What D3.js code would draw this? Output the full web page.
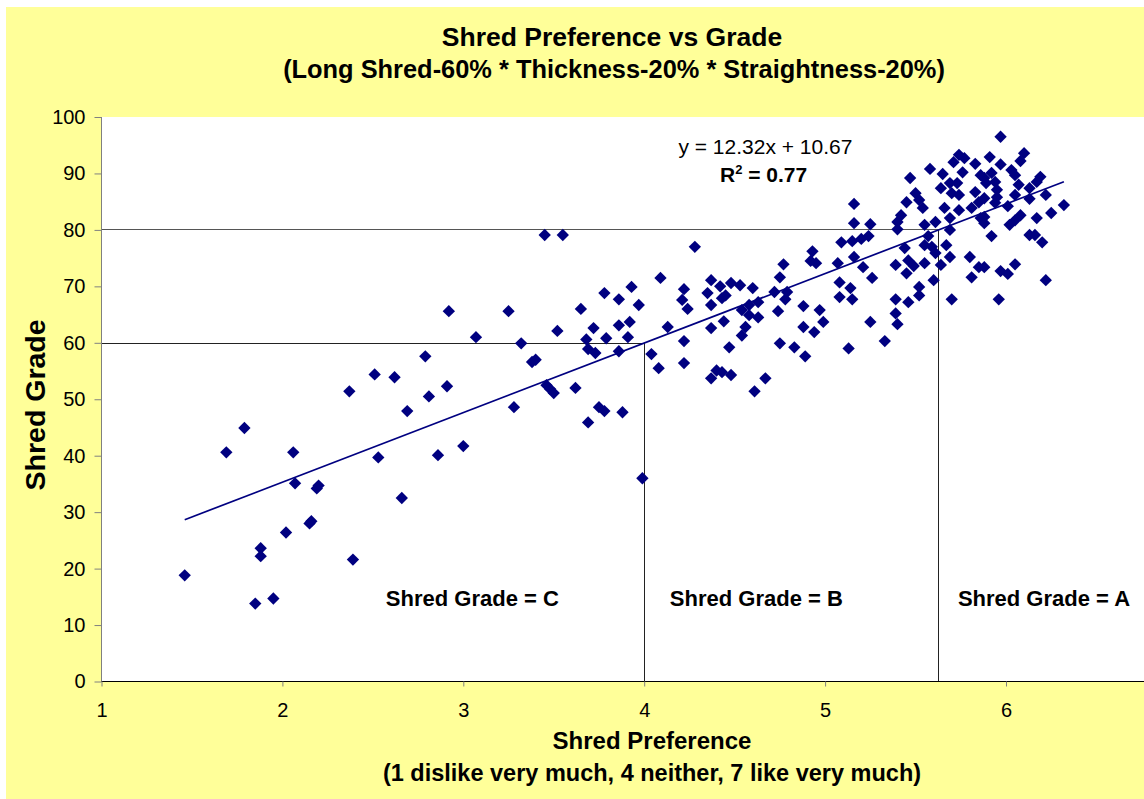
<!DOCTYPE html>
<html>
<head>
<meta charset="utf-8">
<script src="https://cdn.jsdelivr.net/npm/d3@7"></script>
<style>
  body { margin: 0; background: #fff; }
  text { font-family: "Liberation Sans", Arial, sans-serif; }
</style>
</head>
<body>
<div id="chart"></div>
<script>
// Shred preference (x) vs grade (y), grouped by the grade zone they fall in
const zoneC = [
  [1.46,18.8],[1.69,40.6],[1.79,44.9],[1.85,13.8],[1.88,23.6],[1.88,22.2],[1.95,14.7],[2.02,26.4],
  [2.06,40.6],[2.07,35.1],[2.15,28.0],[2.16,28.4],[2.19,34.2],[2.20,34.7],[2.39,21.6],[2.53,39.7],
  [2.66,32.5],[2.69,47.9],[2.37,51.4],[2.51,54.4],[2.62,53.9],[2.79,57.6],[2.81,50.5],[2.91,52.3],
  [2.86,40.1],[3.00,41.7],[2.92,65.6],[3.25,65.6],[3.07,61.0],[3.32,59.9],[3.28,48.6],[3.38,56.6],
  [3.40,57.0],[3.45,79.1],[3.55,79.1],[3.78,68.8],[3.86,67.7],[3.93,69.9],[3.97,66.7],[3.65,66.0],
  [3.52,62.1],[3.72,62.6],[3.86,63.1],[3.92,63.7],[3.79,60.8],[3.91,61.0],[3.68,60.6],[3.69,58.9],
  [3.73,58.2],[3.86,58.5],[3.46,52.5],[3.50,51.1],[3.48,51.8],[3.62,52.0],[3.75,48.6],[3.78,47.9],
  [3.88,47.7],[3.69,45.9],[3.99,36.0]
];
const zoneB = [
  [4.28,77.0],[4.09,71.5],[4.22,69.5],[4.21,67.6],[4.24,66.0],[4.13,62.8],[4.22,60.3],[4.04,58.0],
  [4.08,55.5],[4.22,56.4],[4.37,71.1],[4.42,70.0],[4.48,70.6],[4.53,70.2],[4.60,69.7],[4.35,68.8],
  [4.45,68.4],[4.43,67.9],[4.72,69.0],[4.79,69.0],[4.78,67.7],[4.77,73.9],[4.75,71.6],[4.93,76.2],
  [4.92,74.5],[4.95,74.1],[5.07,74.1],[5.16,75.2],[5.09,77.8],[5.15,78.0],[5.16,81.2],[5.08,70.7],
  [5.08,68.1],[5.14,69.7],[5.15,67.7],[4.37,66.7],[4.58,66.7],[4.63,67.2],[4.54,65.8],[4.58,64.9],
  [4.63,64.5],[4.74,65.6],[4.88,66.5],[4.97,65.8],[4.99,63.7],[4.88,62.8],[4.94,61.9],[4.44,63.8],
  [4.37,62.6],[4.56,62.8],[4.54,61.3],[4.47,59.2],[4.75,59.9],[4.83,59.2],[4.89,57.6],[5.13,59.0],
  [4.40,55.1],[4.43,54.8],[4.48,54.3],[4.37,53.7],[4.67,53.7],[4.61,51.4],
  [5.47,89.2],[5.50,86.5],[5.45,84.9],[5.42,82.6],[5.40,81.4],[5.40,80.1],[5.16,84.6],[5.25,81.0],
  [5.20,78.4],[5.24,78.9],[5.21,73.4],[5.26,71.5],[5.44,76.8],[5.46,74.6],[5.39,73.8],[5.45,72.3],
  [5.49,73.6],[5.52,69.9],[5.25,63.7],[5.39,67.7],[5.46,67.2],[5.52,68.4],[5.39,65.2],[5.40,63.3],
  [5.33,60.3],[5.58,90.8],[5.52,85.3],[5.54,83.9],[5.55,80.9],[5.61,81.4],[5.57,78.9],[5.55,77.3],
  [5.59,77.0],[5.61,75.9],[5.55,74.1],[5.60,71.1]
];
const zoneA = [
  [5.74,93.3],[5.77,92.7],[5.71,92.0],[5.83,91.7],[5.65,89.9],[5.76,90.2],[5.86,89.7],[5.64,87.4],
  [5.69,88.3],[5.73,88.3],[5.70,86.5],[5.74,86.2],[5.83,86.7],[5.85,84.9],[5.81,83.9],[5.66,83.9],
  [5.74,83.5],[5.69,82.1],[5.86,82.1],[5.69,80.0],[5.67,77.3],[5.64,73.8],[5.69,75.2],[5.80,75.2],
  [5.85,73.4],[5.81,71.6],[5.70,67.7],
  [5.97,96.5],[5.91,92.9],[6.10,93.6],[6.08,92.2],[5.97,91.6],[6.03,90.6],[5.92,90.1],[5.88,89.2],
  [6.05,89.7],[6.19,89.4],[6.17,88.5],[5.94,88.5],[6.07,88.0],[6.13,87.4],[5.95,87.1],[5.89,88.3],
  [6.22,86.2],[6.13,85.5],[5.95,85.8],[6.05,86.2],[6.01,84.2],[5.94,84.8],[6.32,84.4],[6.25,83.0],
  [5.88,85.6],[5.88,82.3],[6.08,82.6],[6.05,81.7],[6.02,80.9],[6.17,82.1],[5.88,81.2],[5.92,78.9],
  [6.13,79.1],[6.16,79.1],[6.20,77.8],[5.88,73.4],[5.97,72.7],[6.01,72.2],[6.05,73.9],[6.22,71.1],
  [5.96,67.7]
];

// Trend line y = slope * x + intercept, as printed on the chart
const slope = 12.32;
const intercept = 10.67;
const rSquared = 0.77;
const gradeCutoffs = [60, 80];
const xTicks = [1, 2, 3, 4, 5, 6];
const yTicks = [0, 10, 20, 30, 40, 50, 60, 70, 80, 90, 100];
const zoneLabels = ["Shred Grade = C", "Shred Grade = B", "Shred Grade = A"];

const data = zoneC.concat(zoneB, zoneA);

const svgWidth = 1144;
const svgHeight = 799;
const plot = { left: 101.5, top: 117, bottom: 681.5, right: 1144 };
const unitX = 180.9;

const svg = d3.select("#chart")
  .append("svg")
  .attr("width", svgWidth)
  .attr("height", svgHeight);

// Chart area and plot area backgrounds
svg.append("rect")
  .attr("x", 6).attr("y", 7)
  .attr("width", svgWidth - 6).attr("height", svgHeight - 7)
  .attr("fill", "#ffff99");

svg.append("rect")
  .attr("x", plot.left).attr("y", plot.top)
  .attr("width", plot.right - plot.left).attr("height", plot.bottom - plot.top)
  .attr("fill", "#fff");

// Scales (x axis runs 1..7 but the chart is cut off before 7)
const xScale = d3.scaleLinear()
  .domain([1, 7])
  .range([plot.left, plot.left + 6 * unitX]);

const yScale = d3.scaleLinear()
  .domain([0, 100])
  .range([plot.bottom, plot.top]);

// Cutoff lines: preference 4 ("neither") and grade 80 read back through the trend line
const cutB = 4;
const cutA = (gradeCutoffs[1] - intercept) / slope;
const gradeAt4 = slope * cutB + intercept;

const guides = svg.append("g").attr("shape-rendering", "crispEdges");
guides.append("line")
  .attr("x1", xScale(1)).attr("x2", xScale(cutB))
  .attr("y1", yScale(gradeAt4)).attr("y2", yScale(gradeAt4))
  .attr("stroke", "#222");
guides.append("line")
  .attr("x1", xScale(cutB)).attr("x2", xScale(cutB))
  .attr("y1", yScale(gradeAt4)).attr("y2", yScale(0))
  .attr("stroke", "#222");
guides.append("line")
  .attr("x1", xScale(1)).attr("x2", xScale(cutA))
  .attr("y1", yScale(gradeCutoffs[1])).attr("y2", yScale(gradeCutoffs[1]))
  .attr("stroke", "#555");
guides.append("line")
  .attr("x1", xScale(cutA)).attr("x2", xScale(cutA))
  .attr("y1", yScale(gradeCutoffs[1])).attr("y2", yScale(0))
  .attr("stroke", "#222");

// Axes
const yAxis = d3.axisLeft(yScale)
  .tickValues(yTicks)
  .tickSize(7)
  .tickPadding(9);

const yG = svg.append("g")
  .attr("transform", `translate(${plot.left}, 0)`)
  .call(yAxis);
yG.select(".domain").attr("stroke", "#808080").attr("d", `M0,${plot.top}V${plot.bottom}`);
yG.selectAll(".tick line").attr("stroke", "#808080");
yG.selectAll("text")
  .attr("font-size", 20)
  .attr("font-family", "Liberation Sans, Arial, sans-serif")
  .attr("fill", "#000");

const xAxis = d3.axisBottom(xScale)
  .tickValues(xTicks)
  .tickSize(5)
  .tickPadding(16)
  .tickFormat(d3.format("d"));

const xG = svg.append("g")
  .attr("transform", `translate(0, ${plot.bottom})`)
  .call(xAxis);
xG.select(".domain").attr("stroke", "#000").attr("d", `M${plot.left},0H${plot.right}`);
xG.selectAll(".tick line").attr("stroke", "#808080");
xG.selectAll("text")
  .attr("font-size", 20)
  .attr("font-family", "Liberation Sans, Arial, sans-serif")
  .attr("fill", "#000");

// Trend line across the range of the data
const xExtent = d3.extent(data, d => d[0]);
const line = d3.line()
  .x(d => xScale(d))
  .y(d => yScale(slope * d + intercept));

svg.append("path")
  .datum(xExtent)
  .attr("fill", "none")
  .attr("stroke", "#000080")
  .attr("stroke-width", 1.7)
  .attr("d", line);

// Points as diamonds
const diamond = d3.symbol().type(d3.symbolSquare).size(76);
svg.append("g")
  .selectAll("path")
  .data(data)
  .join("path")
  .attr("d", diamond)
  .attr("transform", d => `translate(${xScale(d[0])},${yScale(d[1])}) rotate(45)`)
  .attr("fill", "#000080");

// Titles
svg.append("text")
  .attr("x", 612).attr("y", 46)
  .attr("text-anchor", "middle")
  .attr("font-weight", "bold")
  .attr("font-size", 26.5)
  .text("Shred Preference vs Grade");

svg.append("text")
  .attr("x", 614).attr("y", 78)
  .attr("text-anchor", "middle")
  .attr("font-weight", "bold")
  .attr("font-size", 25.4)
  .text("(Long Shred-60% * Thickness-20% * Straightness-20%)");

svg.append("text")
  .attr("x", 652).attr("y", 749)
  .attr("text-anchor", "middle")
  .attr("font-weight", "bold")
  .attr("font-size", 24)
  .text("Shred Preference");

svg.append("text")
  .attr("x", 652).attr("y", 781)
  .attr("text-anchor", "middle")
  .attr("font-weight", "bold")
  .attr("font-size", 23.5)
  .text("(1 dislike very much, 4 neither, 7 like very much)");

svg.append("text")
  .attr("transform", `translate(45, ${yScale(49)}) rotate(-90)`)
  .attr("text-anchor", "middle")
  .attr("font-weight", "bold")
  .attr("font-size", 28.5)
  .text("Shred Grade");

// Trend line equation
svg.append("text")
  .attr("x", xScale(4.67)).attr("y", 154)
  .attr("text-anchor", "middle")
  .attr("font-size", 21)
  .text(`y = ${slope}x + ${intercept}`);

const r2 = svg.append("text")
  .attr("x", xScale(4.66)).attr("y", 182)
  .attr("text-anchor", "middle")
  .attr("font-weight", "bold")
  .attr("font-size", 21);
r2.append("tspan").text("R");
r2.append("tspan").attr("font-size", 13).attr("dy", -8).text("2");
r2.append("tspan").attr("dy", 8).text(` = ${rSquared}`);

// Zone labels
const zoneCenters = [3.05, 4.62, 6.21];
svg.append("g")
  .selectAll("text")
  .data(zoneLabels)
  .join("text")
  .attr("x", (d, i) => xScale(zoneCenters[i]))
  .attr("y", yScale(13.3))
  .attr("text-anchor", "middle")
  .attr("font-weight", "bold")
  .attr("font-size", 22)
  .text(d => d);
</script>
</body>
</html>
